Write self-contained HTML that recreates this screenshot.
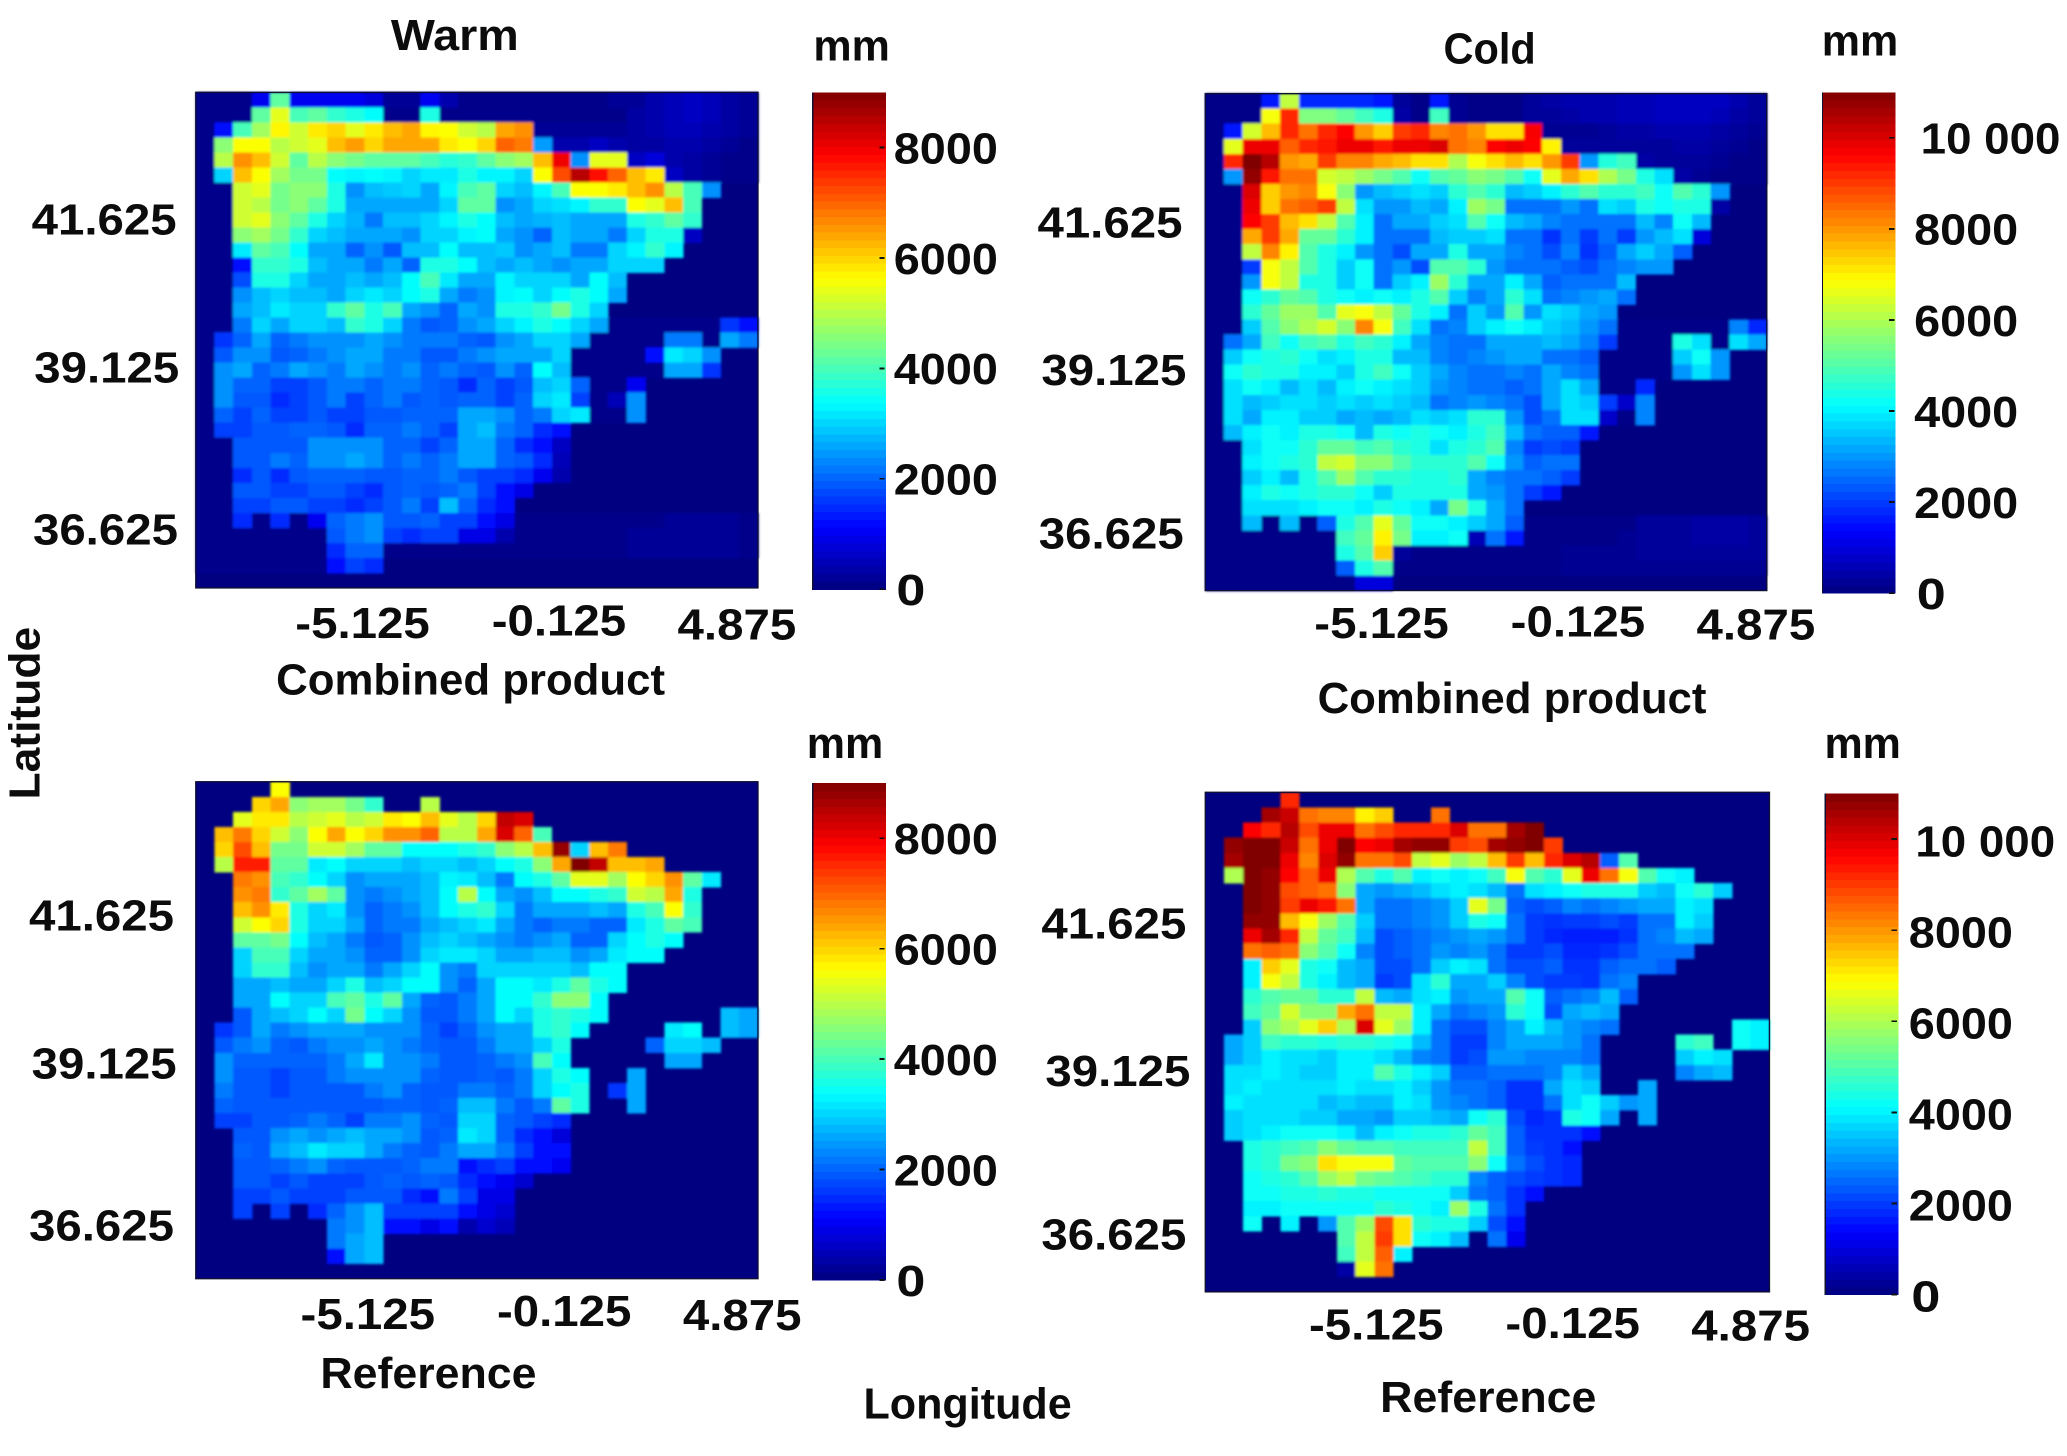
<!DOCTYPE html>
<html lang="en">
<head>
<meta charset="utf-8">
<title>Warm and cold season precipitation maps</title>
<style>
html,body{margin:0;padding:0;background:#fff;width:2067px;height:1456px;overflow:hidden}
svg{display:block}
text{font-family:"Liberation Sans",sans-serif;font-weight:bold;fill:#0c0c0c}
</style>
</head>
<body>
<svg id="figure" xmlns="http://www.w3.org/2000/svg" width="2067" height="1456" viewBox="0 0 1568 1104.5">
<defs><filter id="soften" x="-3%" y="-3%" width="106%" height="106%"><feGaussianBlur stdDeviation="1"/></filter></defs>
</svg>
<script>
// Cell values are in hundreds of mm; rows run north to south, columns west to east. Omitted trailing cells are 0.
const valueUnitMm = 100;
const warmCombined = [
[1,1,1,10,42,10,10,10,10,8,2,2,10,4,1,1,1,1,1,1,1,1,2,2,4,5,6,5,3,2],
[1,1,1,42,54,40,42,38,36,34,1,1,36,1,1,1,1,1,1,1,1,1,1,3,4,5,6,5,3,2],
[1,12,40,48,57,52,58,60,54,58,62,64,57,56,52,50,64,66,2,2,2,2,2,3,4,5,5,4,3,2],
[1,46,56,56,50,52,54,62,65,60,64,64,64,58,56,60,70,68,25,4,4,6,4,3,3,4,4,3,2,1],
[1,50,66,62,52,42,50,46,44,42,42,42,40,37,38,42,46,48,62,80,24,54,54,6,8,4,3,2,1,1],
[1,30,62,56,48,44,44,34,33,34,33,30,32,32,36,33,33,30,56,72,85,78,70,62,58,6,3,2,1,1],
[1,1,52,54,44,46,46,36,24,28,29,30,26,33,40,42,30,28,33,40,56,56,58,62,66,50,40,24],
[1,1,52,50,44,46,42,36,26,26,26,26,26,30,42,42,24,26,30,31,33,38,38,56,54,62,40],
[1,1,52,54,46,42,36,30,27,22,28,28,30,33,36,34,28,26,27,28,26,26,26,36,38,42,38],
[1,1,46,48,44,38,30,28,26,26,26,24,30,30,33,34,26,24,20,28,26,26,22,30,36,36,6],
[1,1,32,42,40,34,26,26,20,24,19,28,28,34,28,28,29,24,26,28,22,22,30,33,38,33],
[1,1,12,38,38,36,28,26,26,22,26,20,36,36,34,28,26,28,26,24,26,26,30,30,30],
[1,1,18,36,36,30,26,26,28,26,28,34,40,32,26,26,33,30,30,30,26,34,28],
[1,1,24,28,30,28,28,26,30,32,30,34,36,26,22,24,33,34,30,34,36,34,26],
[1,1,26,28,32,30,30,38,42,36,40,26,24,20,26,24,36,36,38,44,36,30],
[1,1,22,30,26,30,30,28,38,36,30,22,19,20,24,26,30,33,36,34,30,26,1,1,1,1,1,1,16,12],
[1,16,20,26,20,22,24,24,24,26,24,22,22,22,20,19,24,26,30,30,26,1,1,1,1,22,22,1,26,22],
[1,19,24,24,19,20,22,24,26,26,22,22,19,19,22,24,26,26,26,30,1,1,1,1,12,32,30,24],
[1,24,26,20,22,26,24,22,26,24,22,24,20,22,20,19,24,20,34,28,1,1,1,1,1,26,26,16],
[1,24,20,20,17,17,19,22,22,20,22,22,20,19,15,20,17,19,28,30,20,1,1,10],
[1,24,19,19,15,17,19,22,17,20,22,19,20,19,20,20,17,20,30,32,17,1,5,24],
[1,20,17,20,17,17,19,17,17,19,19,20,20,20,26,26,24,20,22,30,32,1,1,24],
[1,17,17,19,19,20,20,19,15,20,20,22,20,17,26,28,22,20,15,12],
[1,1,19,19,19,19,24,24,24,24,20,20,17,20,26,26,20,15,12,6],
[1,1,19,19,22,20,24,24,26,24,20,22,20,22,26,26,20,19,15,5],
[1,1,15,19,15,19,20,20,20,19,19,20,20,22,19,17,17,15,10,4],
[1,1,19,19,17,17,19,19,17,15,19,20,19,20,22,17,12,9],
[1,1,17,17,19,19,17,17,15,17,19,22,17,28,20,15,12],
[1,1,15,1,15,1,10,20,22,24,19,19,20,17,17,12,9,1,1,1,1,1,1,1,1,2,2,2,2,1],
[1,1,1,1,1,1,1,19,22,24,17,15,17,17,9,9,4,1,1,1,1,1,1,2,2,2,2,2,2,1],
[1,1,1,1,1,1,1,15,20,20,1,1,1,1,1,1,1,1,1,1,1,1,1,2,2,2,2,2,2,1],
[1,1,1,1,1,1,1,12,17,15],
[]
];
const coldCombined = [
[1,1,1,16,62,18,18,18,18,16,3,1,16,2,1,1,1,3,4,5,5,5,6,6,7,7,7,7,5,3],
[1,1,1,68,92,55,55,52,48,44,4,1,48,2,1,1,1,3,3,4,5,5,6,6,7,7,7,6,4,3],
[1,16,64,76,92,84,92,96,80,74,90,92,82,84,80,72,72,97,2,2,2,3,4,4,5,5,5,4,3,2],
[1,66,98,98,86,92,94,98,98,94,98,98,100,84,82,96,98,96,70,3,3,3,3,3,3,4,4,3,2,1],
[1,92,110,104,80,78,90,82,82,78,76,72,72,60,68,72,76,72,80,90,30,45,48,4,3,3,3,2,1,1],
[1,30,108,94,84,84,64,62,58,54,50,42,50,52,56,54,50,42,66,78,72,60,54,44,38,4,2,1,1,1],
[1,1,100,74,80,82,68,56,30,34,36,38,36,46,50,46,34,36,40,46,50,46,46,48,42,50,46,30],
[1,1,98,74,84,86,90,62,38,30,30,34,32,40,58,54,26,26,26,30,26,38,36,44,42,44,44,4],
[1,1,96,90,76,72,62,50,40,26,32,32,36,38,50,42,34,32,28,26,26,26,26,34,28,42,34],
[1,1,78,90,78,52,52,46,40,26,26,26,34,36,36,38,26,26,19,26,20,26,20,30,34,38,10],
[1,1,62,82,70,50,44,40,30,26,22,32,32,44,32,32,28,26,22,28,19,24,32,36,32,24],
[1,1,20,68,62,50,44,36,42,26,30,22,50,50,46,30,26,26,26,24,22,26,28,30,30],
[1,1,30,68,62,44,44,36,42,26,36,40,58,46,32,32,40,32,24,26,26,26,34],
[1,1,42,46,52,50,44,42,40,42,40,44,50,36,28,32,46,38,26,28,30,32,26],
[1,1,46,52,58,58,50,66,68,62,52,44,40,26,36,30,50,30,38,36,32,30],
[1,1,36,50,56,60,64,56,82,68,48,38,26,28,36,40,42,40,36,34,30,26,1,1,1,1,1,1,28,18],
[1,26,32,48,42,48,50,44,48,46,40,32,28,26,26,32,32,32,34,32,28,20,1,1,1,44,38,1,38,32],
[1,36,42,44,46,42,38,40,44,44,34,34,28,26,28,30,32,32,26,26,24,1,1,1,1,36,42,30],
[1,42,46,44,44,40,40,36,44,48,42,36,32,28,26,26,28,26,32,28,26,1,1,1,1,30,38,30],
[1,38,42,40,34,38,34,40,42,40,38,36,30,28,26,26,24,26,32,38,32,1,1,18],
[1,38,34,36,38,38,36,38,36,38,36,34,26,28,30,28,26,22,32,38,36,20,8,28],
[1,38,32,40,40,36,36,32,34,32,34,38,36,38,46,46,30,22,26,38,38,8,1,28],
[1,34,40,42,40,44,44,42,34,44,42,44,42,40,44,48,34,26,24,24,16],
[1,1,38,42,42,46,52,52,48,50,46,44,38,44,46,50,28,20,22,20],
[1,1,40,42,44,46,62,64,56,56,50,46,46,46,50,42,30,24,26,26],
[1,1,36,40,34,44,50,58,50,46,46,44,44,46,32,28,26,26,24,20],
[1,1,40,44,42,44,46,46,42,36,44,44,44,44,32,30,26,20,16],
[1,1,38,38,38,40,42,42,40,44,42,40,32,54,44,32,26],
[1,1,34,1,34,1,24,44,50,66,52,42,42,40,36,32,24,1,1,1,1,1,1,3,3,3,4,4,4,3],
[1,1,1,1,1,1,1,48,52,70,54,40,40,42,6,26,16,1,1,1,1,1,2,3,3,3,4,4,4,3],
[1,1,1,1,1,1,1,44,50,74,3,1,1,1,1,1,1,1,1,2,2,2,2,3,3,3,3,3,3,3],
[1,1,1,1,1,1,1,24,44,50,1,1,1,1,1,1,1,1,1,2,2,2,2,2,2,2,2,2,2,2],
[1,1,1,1,1,1,1,1,10,10]
];
const warmReference = [
[0,0,0,0,56],
[0,0,0,60,64,46,48,48,44,38,0,0,50],
[0,0,54,58,58,50,52,54,50,52,58,56,62,54,50,60,84,82],
[0,62,68,60,52,46,56,64,56,60,66,66,70,50,50,64,82,70,40],
[0,60,72,62,44,44,52,52,48,42,42,34,34,34,36,38,46,50,62,88,30,62,68],
[0,50,76,76,42,42,32,34,30,30,30,28,30,30,28,30,34,36,46,64,90,84,62,62,64],
[0,0,68,66,40,38,34,30,24,26,26,26,28,33,32,28,22,34,36,42,54,54,48,56,60,66,42,32],
[0,0,66,68,38,42,48,42,24,22,24,26,28,34,50,34,26,24,28,34,34,36,38,52,50,64,36],
[0,0,62,66,58,36,30,32,24,20,22,24,28,34,36,38,30,22,26,26,26,28,26,36,40,56,38],
[0,0,52,56,60,36,30,30,26,20,22,22,26,28,30,32,26,22,20,22,22,20,20,32,36,42,40],
[0,0,42,42,44,34,28,26,22,19,20,24,28,30,28,26,24,22,24,26,20,20,30,34,36,34],
[0,0,30,40,40,30,26,26,24,20,20,24,30,32,32,30,26,26,28,28,24,26,32,34,34],
[0,0,30,38,38,28,24,26,26,22,26,30,34,24,22,30,30,30,30,30,28,34,34],
[0,0,26,26,28,26,26,30,36,28,30,34,34,24,20,26,34,34,32,36,42,36,34],
[0,0,26,26,34,30,30,40,42,36,42,26,20,19,22,26,34,34,38,46,46,34],
[0,0,19,26,28,30,34,30,44,34,30,24,19,19,22,26,34,30,36,38,36,34,0,0,0,0,0,0,28,26],
[0,16,19,26,22,24,26,26,26,24,24,24,20,17,20,24,26,26,36,38,34,0,0,0,0,32,34,0,28,26],
[0,19,22,24,20,19,22,24,24,26,24,22,20,19,19,22,26,26,30,36,0,0,0,0,20,30,30,28],
[0,24,20,20,20,20,20,22,26,32,24,24,22,19,19,20,22,24,40,34,0,0,0,0,0,26,26],
[0,24,19,19,17,19,19,22,24,24,24,24,20,19,19,20,19,22,30,36,34,0,0,26],
[0,22,19,19,17,19,19,19,19,22,24,20,19,19,22,22,20,22,30,34,36,0,16,26],
[0,20,19,19,19,19,19,19,19,19,20,20,19,20,28,28,22,19,22,42,36,0,0,26],
[0,17,17,19,19,20,22,20,17,22,22,24,20,19,30,30,20,19,17,15],
[0,0,19,19,24,26,24,26,28,26,26,24,19,20,32,30,20,15,12,8],
[0,0,20,19,26,28,32,30,30,26,22,20,19,22,26,26,22,17,12,12],
[0,0,19,19,20,22,24,20,19,19,19,20,22,22,12,15,17,12,12,10],
[0,0,19,19,17,19,17,17,17,19,20,19,20,19,15,12,10,7],
[0,0,17,17,19,17,17,17,19,19,19,15,12,22,17,9,9],
[0,0,17,0,17,0,15,20,24,28,17,17,17,17,12,9,7],
[0,0,0,0,0,0,0,22,24,28,12,12,9,12,4,7,5],
[0,0,0,0,0,0,0,22,26,28],
[0,0,0,0,0,0,0,12,26,28],
[]
];
const coldReference = [
[0,0,0,0,92],
[0,0,0,106,102,84,82,82,70,74,0,0,84],
[0,0,96,92,104,88,98,98,84,88,92,92,92,100,84,84,106,110],
[0,108,110,110,102,84,98,110,96,98,106,108,108,90,88,106,108,110,90],
[0,106,110,110,98,82,100,108,84,84,88,62,66,58,62,76,90,76,92,100,104,24,50],
[0,60,110,108,96,86,98,60,50,44,50,40,42,40,42,48,68,50,46,66,98,84,68,50,42,40],
[0,0,110,108,88,86,84,56,32,30,32,34,38,40,38,34,26,38,40,42,44,44,44,36,34,42,46,36],
[0,0,110,108,90,98,94,84,32,26,26,28,30,36,66,54,24,22,24,28,26,28,30,32,32,40,38],
[0,0,108,108,76,68,58,50,36,26,26,28,30,36,44,42,26,20,19,20,20,22,20,26,26,40,36],
[0,0,98,106,92,62,52,48,34,22,24,26,28,30,32,30,26,20,18,17,17,17,19,26,28,34,32],
[0,0,84,86,84,56,50,42,28,22,24,26,30,28,30,26,20,20,22,18,18,19,22,26,26,26],
[0,0,40,74,66,44,42,34,32,22,22,26,36,40,38,26,22,22,24,19,19,24,26,26,24],
[0,0,40,68,62,44,40,34,32,20,22,38,46,32,32,36,28,22,20,20,19,26,28],
[0,0,46,50,52,52,46,46,62,34,32,38,40,30,32,32,50,42,24,26,28,34,24],
[0,0,48,52,64,56,56,78,84,62,62,40,32,26,28,30,46,42,22,32,34,32],
[0,0,36,56,60,66,74,60,100,66,58,40,26,22,22,28,32,40,34,30,28,26,0,0,0,0,0,0,42,40],
[0,32,36,48,46,46,44,46,46,44,42,34,26,20,20,28,32,32,32,30,26,0,0,0,0,46,48,0,42,40],
[0,32,36,40,38,38,36,40,40,38,34,28,26,20,22,30,30,28,28,28,26,0,0,0,0,36,40,38],
[0,38,38,40,38,36,36,40,40,50,44,40,36,24,24,26,26,26,28,36,32,0,0,0,0,28,32,34],
[0,38,40,38,38,38,38,40,38,38,40,36,30,26,26,24,19,19,32,38,36,0,0,32],
[0,40,38,38,38,38,34,36,34,34,40,38,30,28,26,24,19,19,26,38,42,36,30,32],
[0,36,38,38,38,36,36,32,32,30,36,36,34,32,42,46,22,18,19,44,42,32,0,32],
[0,36,38,40,42,42,42,40,34,40,42,44,44,46,52,48,24,19,19,19,15],
[0,0,44,46,48,50,56,52,50,50,48,48,48,48,62,48,24,20,19,15],
[0,0,44,46,54,56,72,68,68,68,52,50,50,50,56,42,26,22,19,18],
[0,0,42,44,46,50,58,62,54,52,50,48,46,46,28,24,22,20,19,18],
[0,0,42,42,44,44,46,44,44,42,42,42,42,36,26,24,19,15],
[0,0,40,40,42,42,42,42,42,46,44,42,40,58,44,26,19],
[0,0,42,0,40,0,30,50,58,88,72,46,44,44,36,22,15],
[0,0,0,0,0,0,0,50,62,90,72,42,40,34,0,26,12],
[0,0,0,0,0,0,0,48,62,86,40],
[0,0,0,0,0,0,0,4,66,84],
[]
];
const gridColumns = 30;
const gridRows = 33;
const latitudeTicks = ['41.625','39.125','36.625'];
const longitudeTicks = ['-5.125','-0.125','4.875'];
const warmScaleTicks = [0,2000,4000,6000,8000];
const coldScaleTicks = [0,2000,4000,6000,8000,10000];

const panels = [
 {id:'warm-combined',cells:warmCombined,ticks:warmScaleTicks,max:9000,x:148.5,y:70,w:426.5,h:376,
  barX:616,barY:70,barW:56,barH:377,tickX:678,tickDy:12,latX:[24,26,25],latY:[178,290,413],lonX:[275,424,559],lonY:[484,482,485],
  caption:'Combined product',capX:357,capY:527,capW:295,unitX:646,unitY:46},
 {id:'cold-combined',cells:coldCombined,ticks:coldScaleTicks,max:11000,x:914.3,y:71,w:426,h:377,
  barX:1382,barY:70,barW:56,barH:380,tickX:1452,tickDy:12,latX:[787,790,788],latY:[180,292,416],lonX:[1048,1197,1332],lonY:[484,483,485],
  caption:'Combined product',capX:1147,capY:541,capW:295,unitX:1411,unitY:42},
 {id:'warm-reference',cells:warmReference,ticks:warmScaleTicks,max:9000,x:148.5,y:593,w:426.5,h:377,
  barX:616,barY:594,barW:56,barH:377,tickX:678,tickDy:12,latX:[22,24,22],latY:[706,818,941],lonX:[279,428,563],lonY:[1008,1006,1009],
  caption:'Reference',capX:325,capY:1053,capW:164,unitX:641,unitY:575},
 {id:'cold-reference',cells:coldReference,ticks:coldScaleTicks,max:11000,x:914.3,y:601,w:428,h:379,
  barX:1384,barY:602,barW:56,barH:380,tickX:1448,tickDy:13,latX:[790,793,790],latY:[712,824,948],lonX:[1044,1193,1328],lonY:[1016,1015,1017],
  caption:'Reference',capX:1129,capY:1071,capW:164,unitX:1413,unitY:575}
];

const SVG_NS = 'http://www.w3.org/2000/svg';
const figure = document.getElementById('figure');

function clamp01(v){return Math.max(0,Math.min(1,v));}
function jet(t){
  const r = clamp01(1.5-Math.abs(4*t-3));
  const g = clamp01(1.5-Math.abs(4*t-2));
  const b = clamp01(1.5-Math.abs(4*t-1));
  return 'rgb('+Math.round(r*255)+','+Math.round(g*255)+','+Math.round(b*255)+')';
}
function addRect(parent,x,y,w,h,fill){
  const el = document.createElementNS(SVG_NS,'rect');
  el.setAttribute('x',x);
  el.setAttribute('y',y);
  el.setAttribute('width',w);
  el.setAttribute('height',h);
  el.setAttribute('fill',fill);
  parent.appendChild(el);
  return el;
}
function addText(parent,str,x,y,size,anchor,width){
  const el = document.createElementNS(SVG_NS,'text');
  el.setAttribute('x',x);
  el.setAttribute('y',y);
  el.setAttribute('font-size',size);
  el.setAttribute('text-anchor',anchor);
  if(width){
    el.setAttribute('textLength',width);
    el.setAttribute('lengthAdjust','spacingAndGlyphs');
  }
  el.textContent = str;
  parent.appendChild(el);
  return el;
}

panels.forEach(function(p){
  const xScale = function(col){return p.x+col*p.w/gridColumns;};
  const yScale = function(row){return p.y+row*p.h/gridRows;};
  const colorScale = function(mm){return jet(clamp01(mm/p.max));};
  const barY = function(mm){return p.barY+p.barH-mm/p.max*p.barH;};

  const group = document.createElementNS(SVG_NS,'g');
  
  
  figure.appendChild(group);

  const bg = addRect(group,p.x,p.y,p.w,p.h,jet(0));
  
  

  const map = document.createElementNS(SVG_NS,'g');
  
  
  map.setAttribute('shape-rendering','crispEdges');
  map.setAttribute('filter','url(#soften)');
  group.appendChild(map);

  p.cells.forEach(function(row,r){
    row.forEach(function(v,c){
      if(v<=0) return;
      const cell = addRect(map,xScale(c),yScale(r),xScale(c+1)-xScale(c)+0.3,yScale(r+1)-yScale(r)+0.3,colorScale(v*valueUnitMm));
      
      
    });
  });

  const frame = addRect(group,p.x,p.y,p.w,p.h,'none');
  frame.setAttribute('stroke','#101030');
  frame.setAttribute('stroke-width','1');
  
  

  const bar = document.createElementNS(SVG_NS,'g');
  
  
  bar.setAttribute('shape-rendering','crispEdges');
  group.appendChild(bar);
  const levels = 64;
  for(let i=0;i<levels;i++){
    const lo = p.max*i/levels;
    const hi = p.max*(i+1)/levels;
    const seg = addRect(bar,p.barX,barY(hi),p.barW,barY(lo)-barY(hi)+0.4,jet((i+0.5)/levels));
    
    
  }
  const barEdge = addRect(bar,p.barX,p.barY,1,p.barH,'#101030');
  
  

  p.ticks.forEach(function(t){
    const mark = addRect(bar,p.barX+p.barW-5,barY(t)-0.7,4,1.4,'#111');
    
    
    const isBig = t>=10000;
    const isZero = t===0;
    const str = isBig ? '10 000' : String(t);
    const lx = p.tickX+(isBig?5:(isZero?2:0));
    const label = addText(group,str,lx,barY(t)+p.tickDy,33,'start',isBig?106:(isZero?22:79));
    
    
  });

  latitudeTicks.forEach(function(t,i){
    const label = addText(group,t,p.latX[i],p.latY[i],33,'start',110);
    
    
  });
  longitudeTicks.forEach(function(t,i){
    const label = addText(group,t,p.lonX[i],p.lonY[i],33,'middle',i===2?90:102);
    
    
  });

  const caption = addText(group,p.caption,p.capX,p.capY,33,'middle',p.capW);
  
  

  const unit = addText(group,'mm',p.unitX,p.unitY,33,'middle',58);
  
  
});

const warmTitle = addText(figure,'Warm',345,38,33,'middle',97);



const coldTitle = addText(figure,'Cold',1130,48,33,'middle',70);



const lonTitle = addText(figure,'Longitude',734,1076,33,'middle',158);



const latTitle = addText(figure,'Latitude',0,0,33,'middle',131);
latTitle.setAttribute('transform','translate(30,541) rotate(-90)');


</script>
</body>
</html>
